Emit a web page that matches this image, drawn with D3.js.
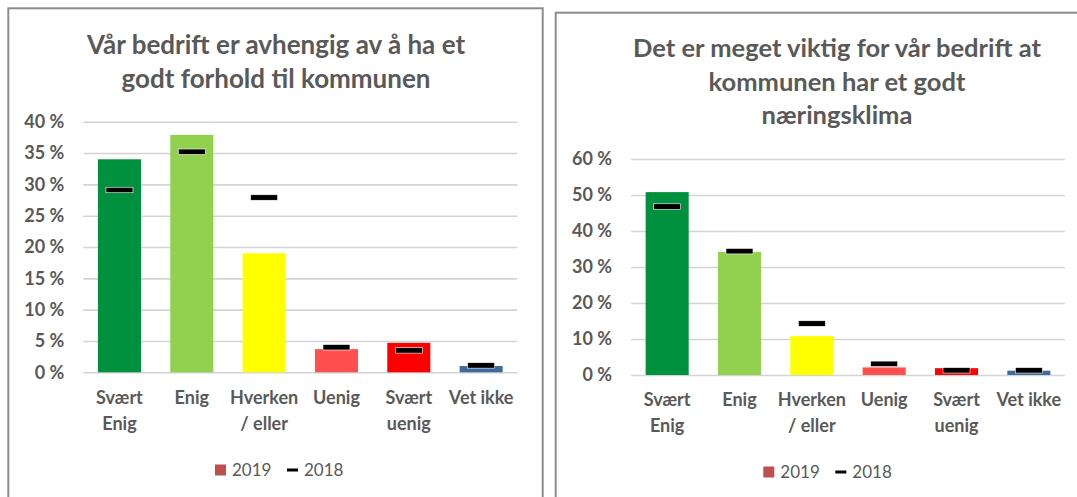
<!DOCTYPE html>
<html lang="nb">
<head>
<meta charset="UTF-8">
<script src="https://cdn.jsdelivr.net/npm/d3@7"></script>
<style>
  body { margin: 0; background: #fff; }
  text { font-family: Lato, "Open Sans", sans-serif; }
</style>
</head>
<body>
<div id="chart"></div>
<script>
// answers, same for both charts
const categories = ["Svært Enig", "Enig", "Hverken / eller", "Uenig", "Svært uenig", "Vet ikke"];
const catLines = [["Svært", "Enig"], ["Enig"], ["Hverken", "/ eller"], ["Uenig"], ["Svært", "uenig"], ["Vet ikke"]];
const barColors = ["#00913f", "#92d050", "#ffff00", "#ff5050", "#ff0000", "#3e6b9e"];

// left chart
const leftTitle = ["Vår bedrift er avhengig av å ha et", "godt forhold til kommunen"];
const left2019 = [34.0, 37.9, 19.0, 3.7, 4.7, 1.0];
const left2018 = [29.1, 35.2, 27.9, 4.0, 3.5, 1.1];
const leftTicks = [0, 5, 10, 15, 20, 25, 30, 35, 40];

// right chart
const rightTitle = ["Det er meget viktig for vår bedrift at", "kommunen  har et godt", "næringsklima"];
const right2019 = [50.8, 34.2, 10.8, 2.1, 1.9, 1.2];
const right2018 = [46.8, 34.4, 14.3, 3.1, 1.3, 1.3];
const rightTicks = [0, 10, 20, 30, 40, 50, 60];

const legendLabels = ["2019", "2018"];

const svg = d3.select("#chart").append("svg")
    .attr("width", 1077)
    .attr("height", 497);

const grey = "#595959";

function drawPanel(p) {
  // frame
  svg.append("rect")
      .attr("x", p.box[0]).attr("y", p.box[1])
      .attr("width", p.box[2]).attr("height", p.box[3])
      .attr("fill", "none")
      .attr("stroke", "#8c8c8c")
      .attr("stroke-width", 2);

  // title
  const t = svg.append("text")
      .attr("text-anchor", "middle")
      .attr("fill", grey)
      .style("font-weight", "bold")
      .style("font-size", p.titleSize + "px");
  p.title.forEach((line, i) => {
    t.append("tspan")
        .attr("x", p.titleX)
        .attr("y", p.titleY + i * 33.5)
        .attr("dy", "0.35em")
        .text(line);
  });

  const x = d3.scaleBand()
      .domain(categories)
      .range([p.left, p.right])
      .paddingInner(0.405)
      .paddingOuter(0.2025);

  const y = d3.scaleLinear()
      .domain([0, d3.max(p.ticks)])
      .range([p.bottom, p.top]);

  // gridlines + tick labels
  const yAxis = svg.append("g")
      .attr("transform", "translate(" + p.left + ",0)")
      .call(d3.axisLeft(y)
          .tickValues(p.ticks)
          .tickFormat(d => d + " %")
          .tickSize(-(p.right - p.left))
          .tickPadding(19));
  yAxis.select(".domain").remove();
  yAxis.selectAll(".tick line")
      .attr("stroke", "#d4d4d4")
      .attr("stroke-width", 1.6);
  yAxis.selectAll(".tick text")
      .attr("fill", grey)
      .style("font-family", "Lato, sans-serif")
      .style("font-weight", "bold")
      .style("font-size", "18px");

  // 2019 bars
  svg.append("g")
    .selectAll("rect")
    .data(p.v2019)
    .join("rect")
      .attr("x", (d, i) => x(categories[i]))
      .attr("y", d => y(d))
      .attr("width", x.bandwidth())
      .attr("height", d => p.bottom - y(d))
      .attr("fill", (d, i) => barColors[i]);

  // 2018 markers
  const mw = 27, mh = 5.5;
  svg.append("g")
    .selectAll("rect")
    .data(p.v2018)
    .join("rect")
      .attr("x", (d, i) => x(categories[i]) + x.bandwidth() / 2 - mw / 2)
      .attr("y", d => y(d) - mh / 2)
      .attr("width", mw)
      .attr("height", mh)
      .attr("fill", "#000")
      .attr("stroke", "#fff")
      .attr("stroke-width", 0.6);

  // category labels
  const labels = svg.append("g")
    .selectAll("text")
    .data(catLines)
    .join("text")
      .attr("text-anchor", "middle")
      .attr("fill", grey)
      .style("font-weight", "bold")
      .style("font-size", "18px");
  labels.each(function(lines, i) {
    const cx = x(categories[i]) + x.bandwidth() / 2;
    lines.forEach((l, j) => {
      d3.select(this).append("tspan")
          .attr("x", cx)
          .attr("y", p.labelY + j * 26)
          .attr("dy", "0.35em")
          .text(l);
    });
  });

  // legend
  const lg = svg.append("g").attr("transform", "translate(" + p.legend[0] + "," + p.legend[1] + ")");
  lg.append("rect").attr("x", 0).attr("y", -5.5).attr("width", 11).attr("height", 11).attr("fill", "#c0504d");
  lg.append("text").attr("x", 17).attr("y", 0).attr("dy", "0.35em")
      .attr("fill", grey).style("font-size", "17px").text(legendLabels[0]);
  lg.append("rect").attr("x", 72).attr("y", -1.5).attr("width", 11).attr("height", 3).attr("fill", "#000");
  lg.append("text").attr("x", 89).attr("y", 0).attr("dy", "0.35em")
      .attr("fill", grey).style("font-size", "17px").text(legendLabels[1]);
}

drawPanel({
  box: [8.3, 8.3, 534.4, 500],
  title: leftTitle, titleX: 276, titleY: 45, titleSize: 26,
  left: 83.3, right: 517.3, top: 121.7, bottom: 372.3,
  ticks: leftTicks, v2019: left2019, v2018: left2018,
  labelY: 398, legend: [215, 470]
});

drawPanel({
  box: [555.7, 12.7, 560, 500],
  title: rightTitle, titleX: 837, titleY: 48.3, titleSize: 25.5,
  left: 631, right: 1065, top: 159, bottom: 375,
  ticks: rightTicks, v2019: right2019, v2018: right2018,
  labelY: 400, legend: [763.3, 472]
});
</script>
</body>
</html>
